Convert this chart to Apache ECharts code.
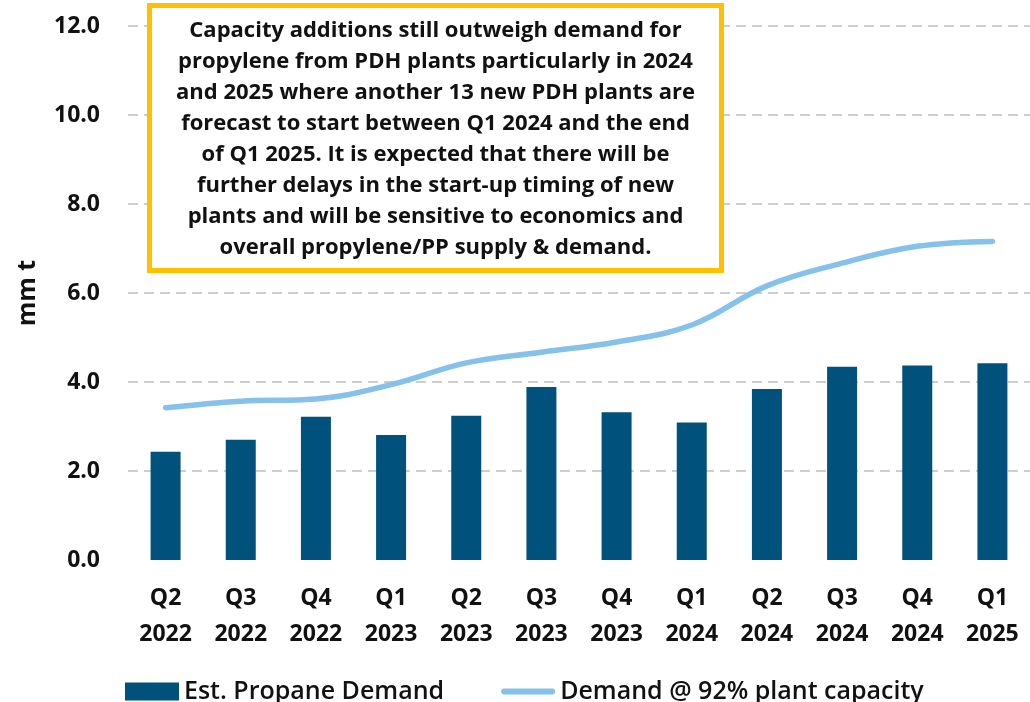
<!DOCTYPE html>
<html>
<head>
<meta charset="utf-8">
<script src="https://cdn.jsdelivr.net/npm/echarts@6/dist/echarts.min.js"></script>
<style>
  html, body { margin: 0; padding: 0; background: #fff; }
  #chart { width: 1030px; height: 702px; }
</style>
</head>
<body>
<div id="chart"></div>
<script>
var quarters = ['Q2\n2022', 'Q3\n2022', 'Q4\n2022', 'Q1\n2023', 'Q2\n2023', 'Q3\n2023',
  'Q4\n2023', 'Q1\n2024', 'Q2\n2024', 'Q3\n2024', 'Q4\n2024', 'Q1\n2025'];
var propaneDemand = [2.43, 2.70, 3.22, 2.81, 3.24, 3.89, 3.32, 3.09, 3.84, 4.34, 4.37, 4.42];
var capacityDemand = [3.42, 3.57, 3.62, 3.94, 4.43, 4.67, 4.90, 5.28, 6.16, 6.67, 7.05, 7.16];
var noteLines = [
  'Capacity additions still outweigh demand for',
  'propylene from PDH plants particularly in 2024',
  'and 2025 where another 13 new PDH plants are',
  'forecast to start between Q1 2024 and the end',
  'of Q1 2025. It is expected that there will be',
  'further delays in the start-up timing of new',
  'plants and will be sensitive to economics and',
  'overall propylene/PP supply & demand.'
];

var font = '"Open Sans", "Noto Sans", sans-serif';
var chart = echarts.init(document.getElementById('chart'), null, { renderer: 'canvas' });

var option = {
  animation: false,
  textStyle: { fontFamily: font },
  grid: { left: 128, top: 26, width: 908, height: 534, containLabel: false },
  legend: {
    left: 120,
    top: 674,
    itemGap: 57,
    itemWidth: 54,
    itemHeight: 18,
    textStyle: { fontSize: 25, fontWeight: 600, color: '#111', fontFamily: font, padding: [0, 0, 0, 0] },
    data: [
      { name: 'Est. Propane Demand', icon: 'rect' },
      { name: 'Demand @ 92% plant capacity', icon: 'path://M3,0 L51,0 A3,3 0 0 1 51,6 L3,6 A3,3 0 0 1 3,0 Z' }
    ]
  },
  xAxis: {
    type: 'category',
    data: quarters,
    axisLine: { show: false },
    axisTick: { show: false },
    axisLabel: {
      margin: 20,
      fontSize: 23,
      fontWeight: 'bold',
      color: '#111',
      lineHeight: 36,
      interval: 0
    }
  },
  yAxis: {
    type: 'value',
    min: 0,
    max: 12,
    interval: 2,
    name: 'mm t',
    nameLocation: 'middle',
    nameGap: 88,
    nameRotate: 90,
    nameTextStyle: { fontSize: 25, fontWeight: 'bold', color: '#111' },
    axisLine: { show: false },
    axisTick: { show: false },
    axisLabel: {
      margin: 28,
      fontSize: 23,
      fontWeight: 'bold',
      color: '#111',
      formatter: function (v) { return v.toFixed(1); }
    },
    splitLine: {
      show: true,
      lineStyle: { color: '#bfbfbf', type: [10, 6], width: 1.5 },
      showMinLine: false
    }
  },
  series: [
    {
      name: 'Est. Propane Demand',
      type: 'bar',
      data: propaneDemand,
      barWidth: 30,
      itemStyle: { color: '#00527c' }
    },
    {
      name: 'Demand @ 92% plant capacity',
      type: 'line',
      data: capacityDemand,
      smooth: 0.4,
      showSymbol: false,
      symbol: 'none',
      lineStyle: { color: '#85c1e9', width: 5.5, cap: 'round' },
      itemStyle: { color: '#85c1e9' }
    }
  ],
  graphic: [
    {
      type: 'rect',
      shape: { x: 149.5, y: 5.5, width: 572, height: 265 },
      style: { fill: '#fff', stroke: '#ffc000', lineWidth: 5 },
      z: 100
    },
    {
      type: 'text',
      x: 435.5,
      y: 15,
      z: 101,
      style: {
        text: noteLines.join('\n'),
        align: 'center',
        verticalAlign: 'top',
        fontFamily: font,
        fontSize: 22,
        fontWeight: 'bold',
        lineHeight: 31,
        fill: '#111'
      }
    }
  ]
};

chart.setOption(option);
</script>
</body>
</html>
